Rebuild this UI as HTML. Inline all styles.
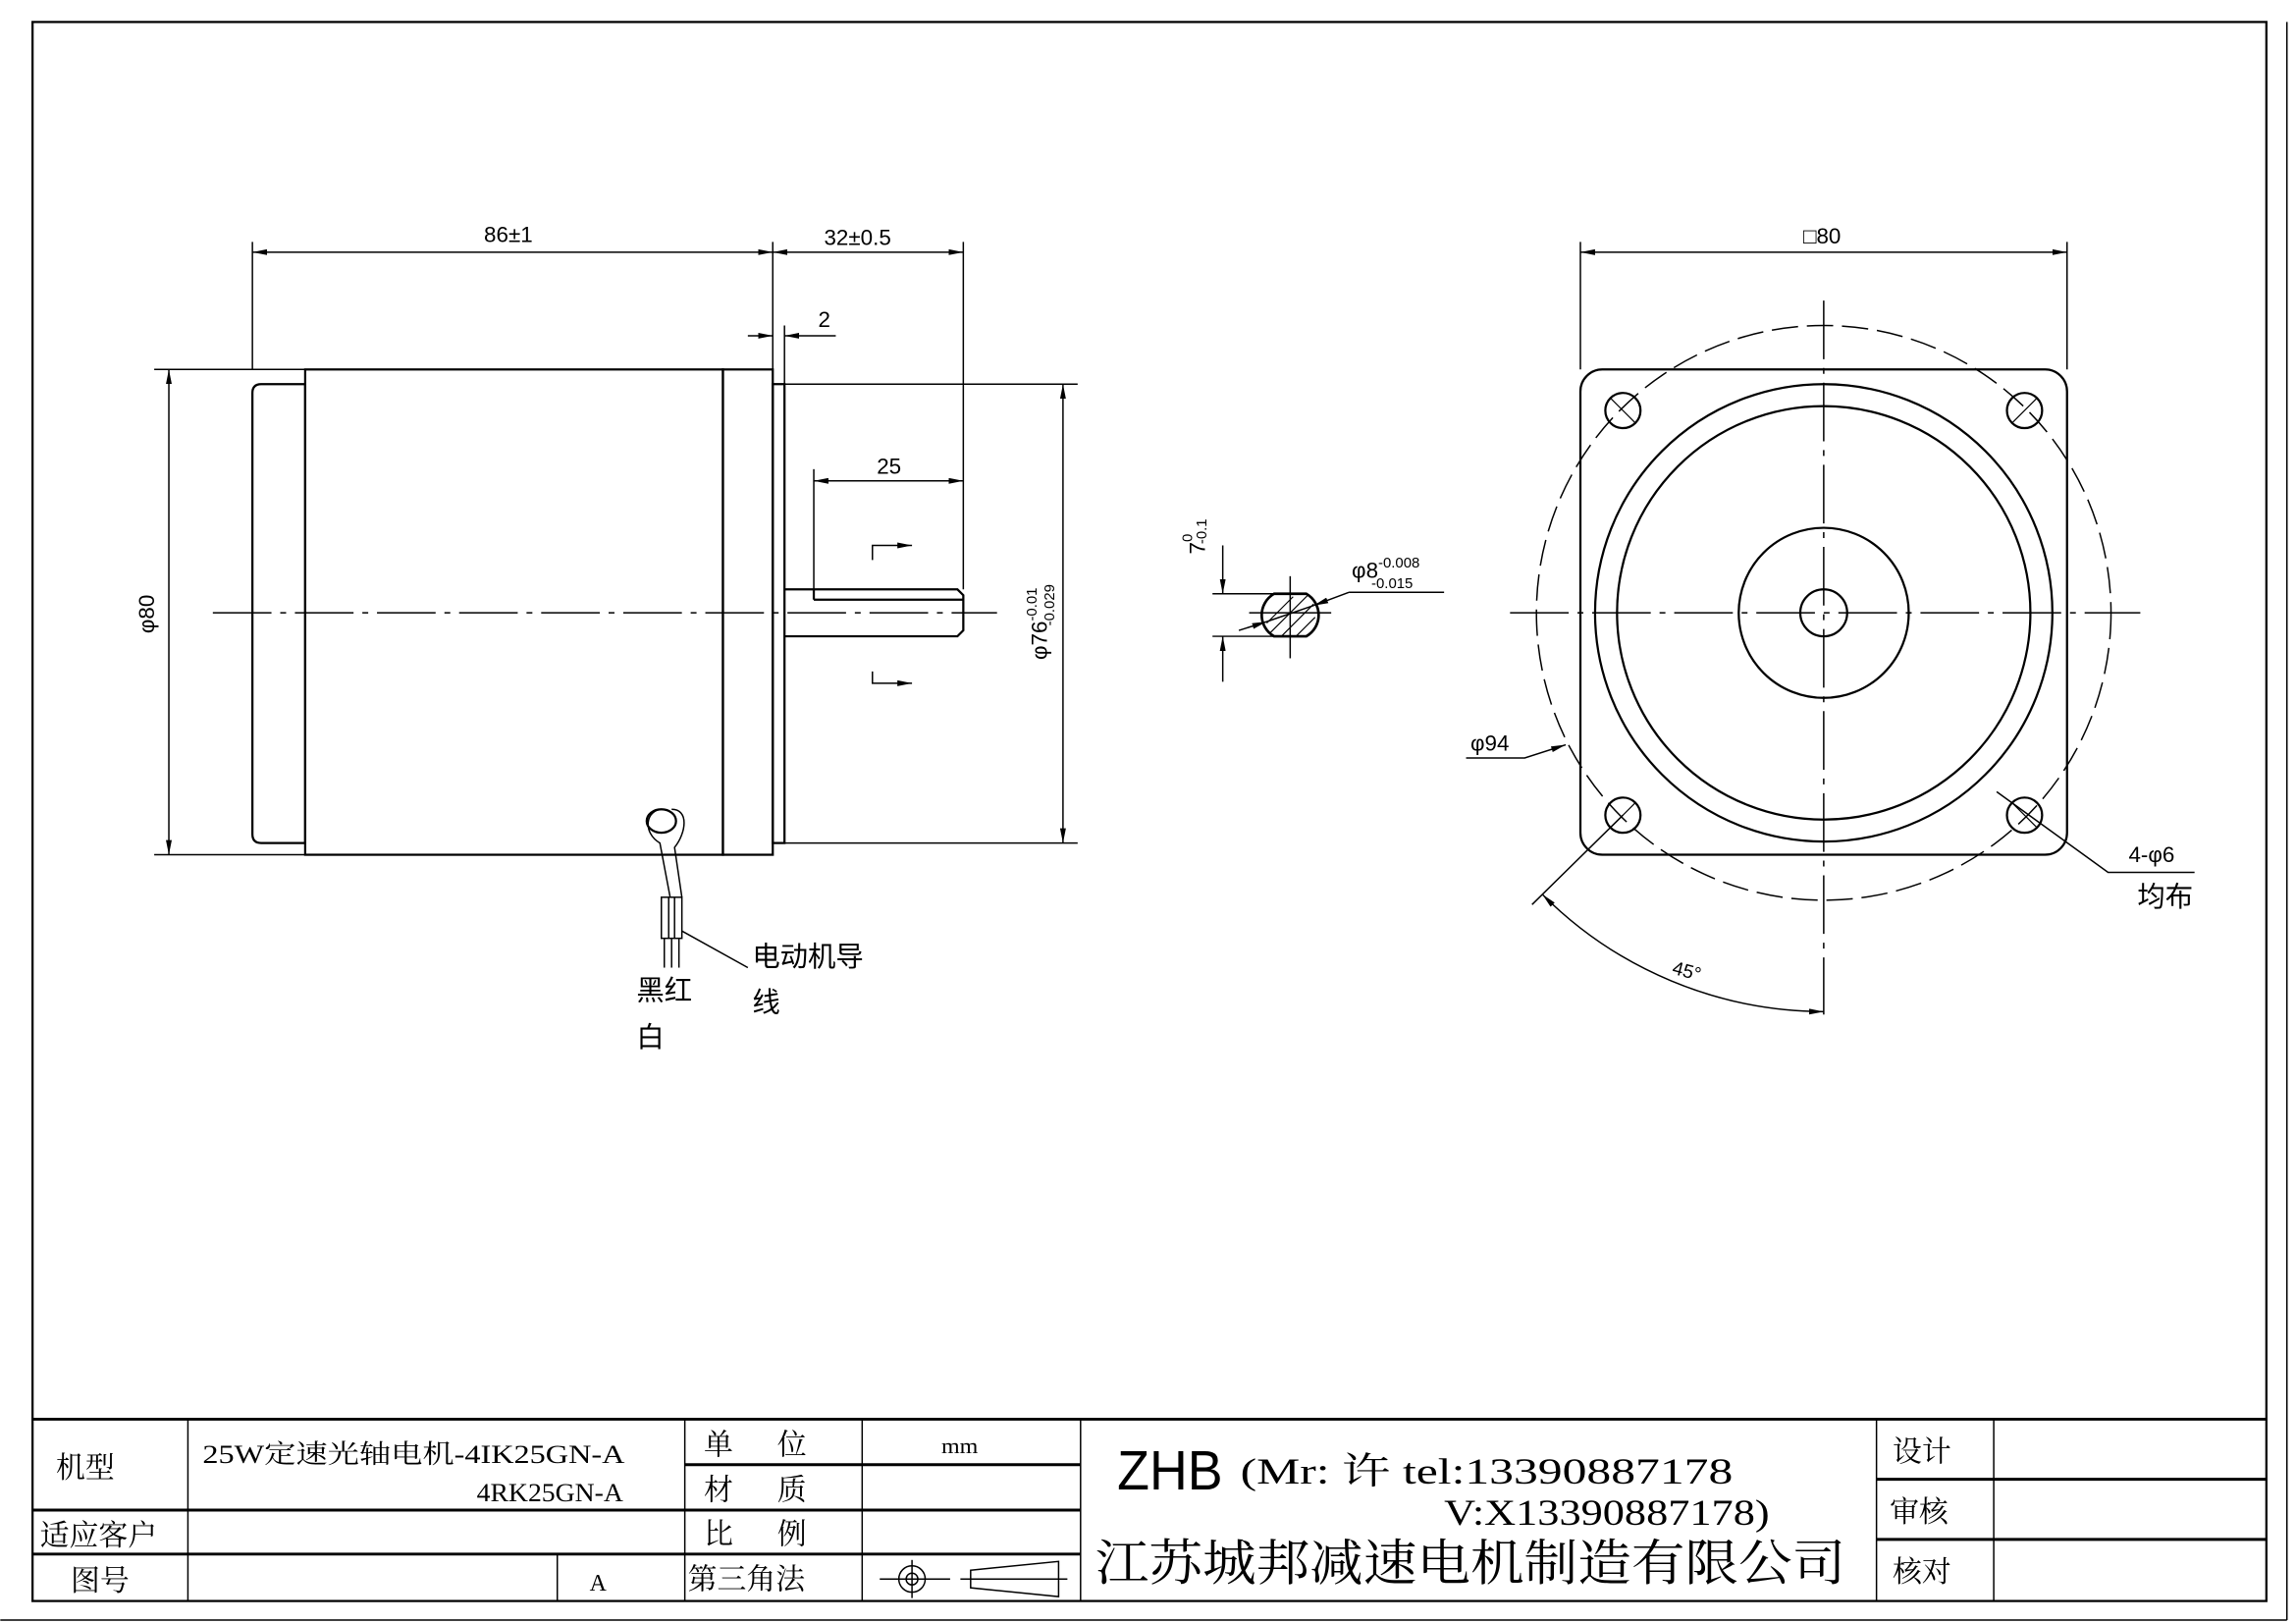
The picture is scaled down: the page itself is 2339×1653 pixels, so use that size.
<!DOCTYPE html>
<html><head><meta charset="utf-8"><style>html,body{margin:0;padding:0;background:#fff}svg{display:block}</style></head>
<body>
<svg width="2339" height="1653" viewBox="0 0 1566 1107" xmlns="http://www.w3.org/2000/svg" font-family="Liberation Sans, Noto Sans CJK SC, sans-serif">
<defs>
<marker id="a" viewBox="0 0 10 4" refX="10" refY="2" markerWidth="10" markerHeight="4" orient="auto-start-reverse" markerUnits="userSpaceOnUse"><path d="M0,0L10,2L0,4z" fill="#000"/></marker>
</defs>
<rect width="1566" height="1107" fill="#fff"/>
<g stroke="#000" fill="none" stroke-width="1">
<rect x="22" y="15" width="1524" height="1077" stroke-width="1.5"/>
<line x1="1560" y1="15" x2="1560" y2="1105"/><line x1="0" y1="1105" x2="1560" y2="1105"/>
<g stroke-width="2">
<line x1="22" y1="968" x2="1546" y2="968"/>
<line x1="22" y1="1030" x2="737" y2="1030"/>
<line x1="22" y1="1060" x2="737" y2="1060"/>
<line x1="467" y1="999" x2="737" y2="999"/>
<line x1="1280" y1="1009" x2="1546" y2="1009"/>
<line x1="1280" y1="1050" x2="1546" y2="1050"/>
</g>
<line x1="128" y1="968" x2="128" y2="1092"/>
<line x1="467" y1="968" x2="467" y2="1092"/>
<line x1="588" y1="968" x2="588" y2="1092"/>
<line x1="737" y1="968" x2="737" y2="1092"/>
<line x1="1280" y1="968" x2="1280" y2="1092"/>
<line x1="1360" y1="968" x2="1360" y2="1092"/>
<line x1="380" y1="1060" x2="380" y2="1092"/>
<circle cx="622" cy="1077" r="9"/><circle cx="622" cy="1077" r="4"/>
<line x1="600" y1="1077" x2="648" y2="1077"/><line x1="622" y1="1064" x2="622" y2="1090"/>
<path d="M662,1071 L722,1065 L722,1089 L662,1083 Z"/><line x1="655" y1="1077" x2="728" y2="1077"/>

<g stroke-width="1.5">
<path d="M178,262 H208 V575 H178 Q172,575 172,569 V268 Q172,262 178,262 Z"/>
<rect x="208" y="252" width="285" height="331"/>
<rect x="493" y="252" width="34" height="331"/>
<rect x="527" y="262" width="8" height="313"/>
<path d="M535,402 H653 L657,406 V430 L653,434 H535"/>
<line x1="555" y1="402" x2="555" y2="409"/>
<line x1="555" y1="409" x2="657" y2="409"/>
</g>
<line x1="145" y1="418" x2="680" y2="418" stroke-dasharray="40,6,4,6"/>
<path d="M452,552 C440,552 438,568 450,575 L457,612 M458,552 C470,552 468,568 460,578 L465,612" />
<ellipse cx="451" cy="560" rx="10" ry="8" stroke-width="1.5"/>
<rect x="451" y="612" width="14" height="28"/>
<line x1="456" y1="612" x2="456" y2="640"/><line x1="460" y1="612" x2="460" y2="640"/>
<line x1="453" y1="640" x2="453" y2="660"/><line x1="458" y1="640" x2="458" y2="660"/><line x1="463" y1="640" x2="463" y2="660"/>
<path d="M465,635 L510,660"/>
<line x1="172" y1="165" x2="172" y2="252"/><line x1="527" y1="165" x2="527" y2="252"/><line x1="657" y1="165" x2="657" y2="402"/>
<line x1="172" y1="172" x2="527" y2="172" marker-start="url(#a)" marker-end="url(#a)"/>
<line x1="527" y1="172" x2="657" y2="172" marker-start="url(#a)" marker-end="url(#a)"/>
<line x1="535" y1="222" x2="535" y2="262"/>
<line x1="510" y1="229" x2="527" y2="229" marker-end="url(#a)"/>
<line x1="570" y1="229" x2="535" y2="229" marker-end="url(#a)"/>
<line x1="555" y1="320" x2="555" y2="402"/>
<line x1="555" y1="328" x2="657" y2="328" marker-start="url(#a)" marker-end="url(#a)"/>
<path d="M595,382 V372 H622" marker-end="url(#a)"/>
<path d="M595,458 V466 H622" marker-end="url(#a)"/>
<line x1="105" y1="252" x2="208" y2="252"/><line x1="105" y1="583" x2="208" y2="583"/>
<line x1="115" y1="252" x2="115" y2="583" marker-start="url(#a)" marker-end="url(#a)"/>
<line x1="535" y1="262" x2="735" y2="262"/><line x1="535" y1="575" x2="735" y2="575"/>
<line x1="725" y1="262" x2="725" y2="575" marker-start="url(#a)" marker-end="url(#a)"/>
<path d="M869,405 H891 A16.7,16.7 0 0 1 891,434 H869 A16.7,16.7 0 0 1 869,405 Z" stroke-width="1.8"/>
<g stroke-width="0.8"><line x1="866" y1="432" x2="892" y2="406"/><line x1="874" y1="434" x2="896" y2="412"/><line x1="864" y1="425" x2="882" y2="407"/><line x1="884" y1="434" x2="897" y2="421"/></g>
<line x1="827" y1="405" x2="891" y2="405"/><line x1="827" y1="434" x2="891" y2="434"/>
<line x1="880" y1="393" x2="880" y2="449"/><line x1="852" y1="418" x2="908" y2="418"/>
<line x1="834" y1="372" x2="834" y2="405" marker-end="url(#a)"/>
<line x1="834" y1="465" x2="834" y2="434" marker-end="url(#a)"/>
<line x1="845" y1="430" x2="864" y2="424" marker-end="url(#a)"/>
<line x1="864" y1="424" x2="896" y2="413"/>
<line x1="920" y1="404" x2="896" y2="413" marker-end="url(#a)"/>
<line x1="920" y1="404" x2="985" y2="404"/>
<rect x="1078" y="252" width="332" height="331" rx="15" stroke-width="1.5"/>
<circle cx="1244" cy="418" r="156" stroke-width="1.5"/>
<circle cx="1244" cy="418" r="141" stroke-width="1.5"/>
<circle cx="1244" cy="418" r="58" stroke-width="1.5"/>
<circle cx="1244" cy="418" r="16" stroke-width="1.5"/>
<circle cx="1244" cy="418" r="196" stroke-dasharray="18,6"/>
<g stroke-width="1.5">
<circle cx="1107" cy="280" r="12"/><circle cx="1381" cy="280" r="12"/><circle cx="1107" cy="556" r="12"/><circle cx="1381" cy="556" r="12"/>
</g>
<g stroke-width="0.8">
<path d="M1099,272 L1115,288 M1373,288 L1389,272 M1099,564 L1115,548 M1373,548 L1389,564"/>
</g>
<line x1="1030" y1="418" x2="1460" y2="418" stroke-dasharray="40,6,4,6"/>
<line x1="1244" y1="205" x2="1244" y2="692" stroke-dasharray="40,6,4,6"/>
<line x1="1078" y1="165" x2="1078" y2="252"/><line x1="1410" y1="165" x2="1410" y2="252"/>
<line x1="1078" y1="172" x2="1410" y2="172" marker-start="url(#a)" marker-end="url(#a)"/>
<path d="M1000,517 H1040 L1068,508" marker-end="url(#a)"/>
<path d="M1362,540 L1438,595 H1497"/>
<line x1="1107" y1="556" x2="1045" y2="617"/>
<path d="M1052,610 A272,272 0 0 0 1244,690" marker-start="url(#a)" marker-end="url(#a)"/>
</g>
<g font-size="15" fill="#000">
<text x="330" y="165">86±1</text>
<text x="562" y="167">32±0.5</text>
<text x="558" y="223">2</text>
<text x="598" y="323">25</text>
<text x="1230" y="166">□80</text>
<text transform="translate(105,432) rotate(-90)">φ80</text>
<text transform="translate(714,450) rotate(-90)">φ76<tspan font-size="10" dy="-7">-0.01</tspan><tspan font-size="10" dx="-26" dy="12">-0.029</tspan></text>
<text transform="translate(822,378) rotate(-90)">7<tspan font-size="10" dy="-9">0</tspan><tspan font-size="10" dx="-7" dy="10">-0.1</tspan></text>
<text x="922" y="394">φ8<tspan font-size="10" dy="-7">-0.008</tspan><tspan font-size="10" dx="-33" dy="14">-0.015</tspan></text>
<text x="1003" y="512">φ94</text>
<text x="1452" y="588">4-φ6</text>
<text x="1458" y="618" font-size="19">均布</text>
<text transform="translate(1140,664) rotate(15)" font-size="13">45°</text>
<text x="513" y="659" font-size="19">电动机导</text>
<text x="513" y="690" font-size="19">线</text>
<text x="434" y="682" font-size="19">黑红</text>
<text x="434" y="714" font-size="19">白</text>
</g>
<g font-family="Liberation Serif, Noto Serif CJK SC, serif" fill="#000" font-size="20">
<text x="38" y="1008">机型</text>
<text x="27" y="1054">适应客户</text>
<text x="48" y="1085">图号</text>
<text x="138" y="998" font-size="18" textLength="288" lengthAdjust="spacingAndGlyphs">25W定速光轴电机-4IK25GN-A</text>
<text x="325" y="1024" font-size="18" textLength="100" lengthAdjust="spacingAndGlyphs">4RK25GN-A</text>
<text x="402" y="1085" font-size="16">A</text>
<text x="480" y="992">单</text><text x="530" y="992">位</text>
<text x="480" y="1023">材</text><text x="530" y="1023">质</text>
<text x="480" y="1053">比</text><text x="530" y="1053">例</text>
<text x="469" y="1084">第三角法</text>
<text x="642" y="991" font-size="15" textLength="25" lengthAdjust="spacingAndGlyphs">mm</text>
<text x="762" y="1016" font-family="Liberation Sans, sans-serif" font-size="38" textLength="72" lengthAdjust="spacingAndGlyphs">ZHB</text>
<text x="846" y="1012" font-size="25" textLength="336" lengthAdjust="spacingAndGlyphs">(Mr: 许  tel:13390887178</text>
<text x="985" y="1040" font-size="25" textLength="222" lengthAdjust="spacingAndGlyphs">V:X13390887178)</text>
<text x="747" y="1078" font-size="34" textLength="512" lengthAdjust="spacingAndGlyphs">江苏城邦减速电机制造有限公司</text>
<text x="1291" y="997">设计</text>
<text x="1289" y="1038">审核</text>
<text x="1291" y="1079">核对</text>
</g>
</svg>
</body></html>
